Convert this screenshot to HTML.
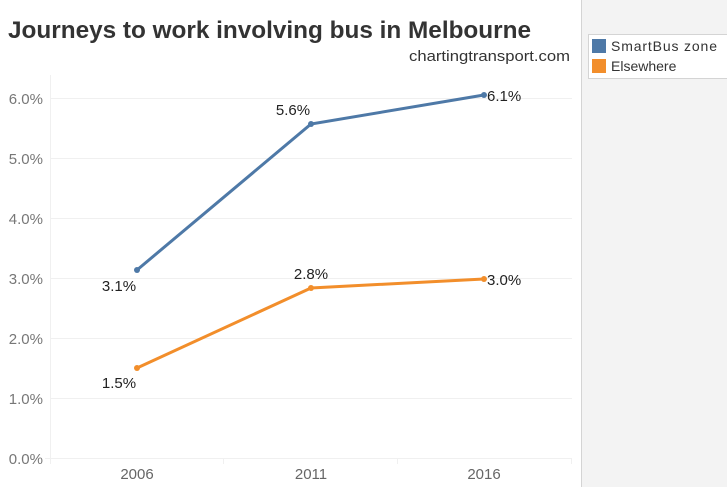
<!DOCTYPE html>
<html><head><style>
body{margin:0;width:727px;height:487px;background:#fff;font-family:"Liberation Sans",sans-serif;overflow:hidden;position:relative}
</style></head><body>
<svg width="727" height="487" style="position:absolute;left:0;top:0" font-family="Liberation Sans, sans-serif">
<rect x="581" y="0" width="146" height="487" fill="#f3f3f3"/>
<line x1="581.5" y1="0" x2="581.5" y2="487" stroke="#d4d4d4"/>
<rect x="588.5" y="34.5" width="140" height="44" fill="#fff" stroke="#d4d4d4"/>
<rect x="592" y="39" width="14" height="14" fill="#4e79a7"/>
<rect x="592" y="59" width="14" height="14" fill="#f28e2b"/>
<text x="611" y="51" font-size="14" fill="#333" textLength="106">SmartBus zone</text>
<text x="611" y="71" font-size="14" fill="#333">Elsewhere</text>
<text x="8" y="38" font-size="24" font-weight="bold" fill="#333" textLength="523" lengthAdjust="spacingAndGlyphs">Journeys to work involving bus in Melbourne</text>
<text x="409" y="61" font-size="15" fill="#333" textLength="161" lengthAdjust="spacingAndGlyphs">chartingtransport.com</text>
<g stroke="#f0f0f0">
<line x1="50" x2="572" y1="98.5" y2="98.5"/><line x1="50" x2="572" y1="158.5" y2="158.5"/>
<line x1="50" x2="572" y1="218.5" y2="218.5"/><line x1="50" x2="572" y1="278.5" y2="278.5"/>
<line x1="50" x2="572" y1="338.5" y2="338.5"/><line x1="50" x2="572" y1="398.5" y2="398.5"/>
<line x1="45" x2="572" y1="458.5" y2="458.5"/>
<line x1="50.5" x2="50.5" y1="75" y2="464"/>
<line x1="223.5" x2="223.5" y1="458" y2="464"/><line x1="397.5" x2="397.5" y1="458" y2="464"/><line x1="571.5" x2="571.5" y1="458" y2="464"/>
</g>
<g font-size="15" fill="#777" text-anchor="end">
<text x="43" y="104">6.0%</text><text x="43" y="164">5.0%</text><text x="43" y="224">4.0%</text>
<text x="43" y="284">3.0%</text><text x="43" y="344">2.0%</text><text x="43" y="404">1.0%</text><text x="43" y="464">0.0%</text>
</g>
<g font-size="15" fill="#666" text-anchor="middle">
<text x="137" y="479">2006</text><text x="311" y="479">2011</text><text x="484" y="479">2016</text>
</g>
<polyline points="137,270 311,124 484,95" fill="none" stroke="#4e79a7" stroke-width="3"/>
<polyline points="137,368 311,288 484,279" fill="none" stroke="#f28e2b" stroke-width="3"/>
<g fill="#4e79a7"><circle cx="137" cy="270" r="3"/><circle cx="311" cy="124" r="3"/><circle cx="484" cy="95" r="3"/></g>
<g fill="#f28e2b"><circle cx="137" cy="368" r="3"/><circle cx="311" cy="288" r="3"/><circle cx="484" cy="279" r="3"/></g>
<g font-size="15" fill="#222">
<text x="119" y="291" text-anchor="middle">3.1%</text>
<text x="293" y="115" text-anchor="middle">5.6%</text>
<text x="487" y="101">6.1%</text>
<text x="119" y="388" text-anchor="middle">1.5%</text>
<text x="311" y="279" text-anchor="middle">2.8%</text>
<text x="487" y="285">3.0%</text>
</g>
</svg>
</body></html>
